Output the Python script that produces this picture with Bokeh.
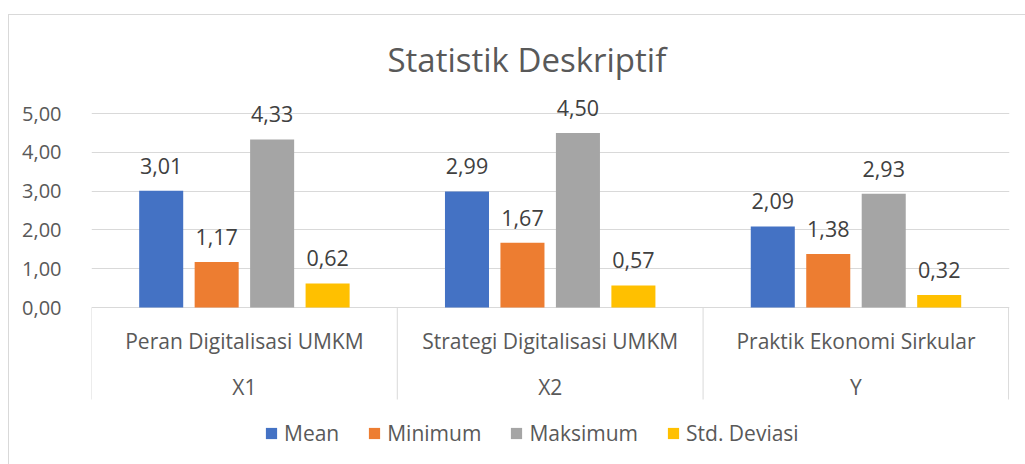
from bokeh.plotting import figure
from bokeh.models import Range1d, FixedTicker, ColumnDataSource, Legend, LegendItem
from bokeh.core.properties import value
from bokeh.embed import file_html
from bokeh.resources import INLINE

# ---------------- data ----------------
title_text = "Statistik Deskriptif"
variables = ["X1", "X2", "Y"]
constructs = ["Peran Digitalisasi UMKM", "Strategi Digitalisasi UMKM", "Praktik Ekonomi Sirkular"]
series_names = ["Mean", "Minimum", "Maksimum", "Std. Deviasi"]
mean_vals = [3.01, 2.99, 2.09]
min_vals = [1.17, 1.67, 1.38]
max_vals = [4.33, 4.50, 2.93]
std_vals = [0.62, 0.57, 0.32]
y_ticks = [0, 1, 2, 3, 4, 5]
y_tick_labels = ["0,00", "1,00", "2,00", "3,00", "4,00", "5,00"]

series_values = [mean_vals, min_vals, max_vals, std_vals]
colors = ["#4472C4", "#ED7D31", "#A5A5A5", "#FFC000"]

FONT = "Open Sans"
TXT = "#595959"
GRID = "#d9d9d9"

# ---------------- layout constants (pixels) ----------------
W, H = 1016, 449
LEFT, TOP = 82, 80
FRAME_W = 918
FRAME_H = H - TOP
ZERO_PX = 292          # canvas y of value 0
UNIT = 38.8            # px per unit
y_end = (ZERO_PX - TOP) / UNIT
y_start = -(H - ZERO_PX) / UNIT
sep_depth = 92 / UNIT

p = figure(width=W, height=H, frame_width=FRAME_W, frame_height=FRAME_H,
           min_border_left=LEFT, min_border_top=TOP, min_border_right=W - LEFT - FRAME_W,
           min_border_bottom=0,
           x_range=Range1d(0, 3.002), y_range=Range1d(y_start, y_end),
           output_backend="svg", toolbar_location=None, tools="")
p.styles = {"border-top": "1px solid #d9d9d9", "border-left": "1px solid #d9d9d9",
            "margin-top": "14px", "margin-left": "8px"}
p.outline_line_color = None
p.background_fill_color = "white"
p.border_fill_color = "white"

# title
p.title.text = title_text
p.title.text_font = FONT
p.title.text_font_size = "33px"
p.title.text_font_style = "normal"
p.title.text_color = TXT
p.title.align = "left"
p.title.offset = 296
p.title.standoff = 28

# axes
p.xaxis.visible = False
p.xgrid.visible = False
yax = p.yaxis[0]
yax.ticker = FixedTicker(ticks=y_ticks)
yax.major_label_overrides = {t: l for t, l in zip(y_ticks, y_tick_labels)}
yax.axis_line_color = None
yax.major_tick_line_color = None
yax.minor_tick_line_color = None
yax.major_label_standoff = 24
yax.major_label_text_font = FONT
yax.major_label_text_font_size = "20px"
yax.major_label_text_color = TXT
p.ygrid.ticker = FixedTicker(ticks=y_ticks)
p.ygrid.grid_line_color = GRID
p.ygrid.grid_line_width = 1

# bars
n_series = len(series_names)
slot = 0.1814
bar_w = 0.144
items = []
for k, (name, vals, col) in enumerate(zip(series_names, series_values, colors)):
    xs = [i + 0.5 + (k - (n_series - 1) / 2) * slot for i in range(len(vals))]
    src = ColumnDataSource(dict(x=xs, top=vals,
                                lab=[f"{v:.2f}".replace(".", ",") for v in vals]))
    r = p.vbar(x="x", top="top", bottom=0, width=bar_w, source=src,
               fill_color=col, line_color=None)
    p.text(x="x", y="top", text="lab", source=src, text_align="center",
           text_baseline="bottom", y_offset=-17, text_font=value(FONT),
           text_font_size="21.5px", text_color="#404040")
    items.append(LegendItem(label=name, renderers=[r]))

# category axis (multi-level) drawn in the plot area below zero
cat_x = [i + 0.5 for i in range(len(constructs))]
p.text(x=cat_x, y=[-33 / UNIT] * len(cat_x), text=constructs, text_align="center",
       text_baseline="middle", text_font=value(FONT), text_font_size="21px",
       text_color=TXT)
p.text(x=cat_x, y=[-79 / UNIT] * len(cat_x), text=variables, text_align="center",
       text_baseline="middle", text_font=value(FONT), text_font_size="21px",
       text_color=TXT)
sep_x = [float(i) for i in range(len(constructs) + 1)]
sep_x[-1] = 2.999
p.segment(x0=sep_x, y0=[0] * len(sep_x), x1=sep_x, y1=[-sep_depth] * len(sep_x),
          line_color=GRID, line_width=1)

legend = Legend(items=items, orientation="horizontal", location=(173, 17),
                label_text_font=FONT, label_text_font_size="21px", label_text_color=TXT,
                glyph_width=14, glyph_height=14, label_standoff=6, spacing=28,
                padding=0, margin=0, border_line_color=None, background_fill_alpha=0)
p.add_layout(legend)

open("out.html", "w").write(file_html(p, INLINE))
